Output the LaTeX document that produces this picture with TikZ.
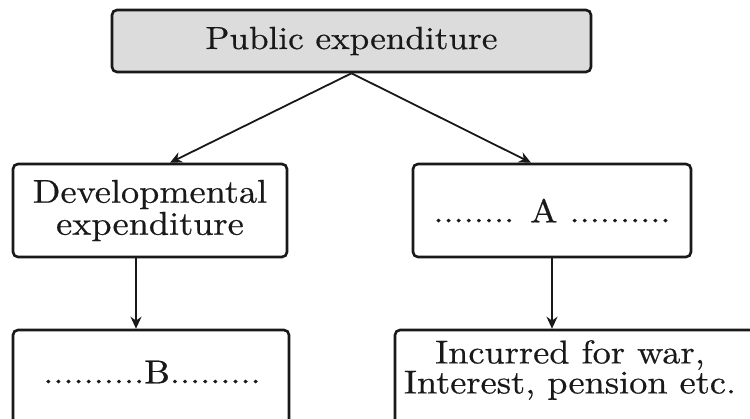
\documentclass[tikz,border=0pt]{standalone}
\usepackage{fontspec}
\setmainfont{lmroman10-regular}[Extension=.otf, FakeStretch=1.1, FakeBold=0.5]
\usetikzlibrary{arrows.meta}
\definecolor{boxgray}{RGB}{220,220,220}
\definecolor{ink}{RGB}{25,25,25}
\begin{document}
\begin{tikzpicture}[x=1pt,y=-1pt,
  box/.style={draw=ink, line width=2.6pt, rounded corners=5pt, inner sep=0pt, align=center,
              font=\fontsize{33}{32}\selectfont, text=ink},
  txt/.style={font=\fontsize{33}{31}\selectfont, text=ink, align=center, inner sep=0pt},
  arr/.style={draw=ink, line width=1.8pt, -{Stealth[length=12pt,width=11pt]}}]
\clip (0,0) rectangle (750,419);
\fill[white] (0,0) rectangle (750,419);
% top
\node[box, fill=boxgray, minimum width=479, minimum height=62,
      font=\fontsize{32}{31}\selectfont] (pub) at (351.5,41) {Public expenditure};
% middle
\node[box, minimum width=274, minimum height=93] (dev) at (150,210.5)
      {Developmental\\expenditure};
\node[box, minimum width=278, minimum height=93] (A) at (552,210.5)
      {........ A ..........};
% bottom
\node[box, minimum width=276, minimum height=110] (B) at (151,385) {};
\node[txt] (Bt) at (152,372) {..........B.........};
\node[box, minimum width=366, minimum height=110] (C) at (578,385) {};
\node[txt, font=\fontsize{33}{30}\selectfont] (Ct) at (570,370)
      {Incurred for war,\\Interest, pension etc.};
% connectors
\draw[arr] (pub.south) -- ([xshift=20]dev.north);
\draw[arr] (pub.south) -- ([xshift=-21]A.north);
\draw[arr] ([xshift=-14]dev.south) -- ([xshift=-14]dev.south |- B.north);
\draw[arr] (A.south) -- (A.south |- C.north);
\end{tikzpicture}
\end{document}
